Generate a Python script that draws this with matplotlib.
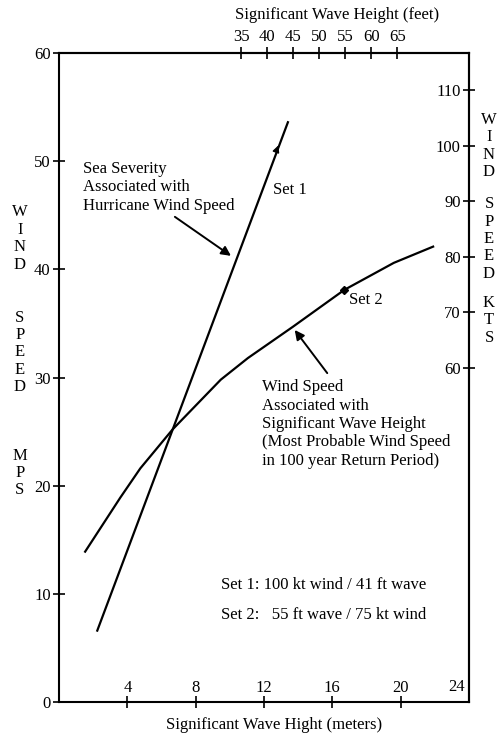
import matplotlib
matplotlib.use("Agg")
import matplotlib.pyplot as plt

plt.rcParams['font.family'] = ['Liberation Serif', 'DejaVu Serif']
plt.rcParams['font.size'] = 12

# data (x = wave height in m, y = wind speed in m/s)
set1_x = [2.24, 13.4]
set1_y = [6.6, 53.6]
set2_x = [1.53, 3.59, 4.76, 6.65, 9.47, 11.06, 13.7, 16.7, 19.6, 21.9]
set2_y = [13.9, 18.9, 21.6, 25.2, 29.8, 31.8, 34.7, 38.1, 40.6, 42.1]
set1_pt = (12.9, 51.7)
set2_pt = (16.7, 38.1)

mps_ticks = [0, 10, 20, 30, 40, 50, 60]
m_ticks = [4, 8, 12, 16, 20]
ft_ticks = [35, 40, 45, 50, 55, 60, 65]
kt_ticks = [60, 70, 80, 90, 100, 110]

FT = 0.3048
KT = 0.514444

fig = plt.figure(figsize=(4.98, 7.36), dpi=100)
ax = fig.add_axes([59/498, 1-702/736, 410/498, 649/736])
ax.set_xlim(0, 24)
ax.set_ylim(0, 60)
for s in ax.spines.values():
    s.set_linewidth(1.5)

ax.plot(set1_x, set1_y, color='black', lw=1.6)
ax.plot(set2_x, set2_y, color='black', lw=1.6)
ax.annotate('', xy=set1_pt, xytext=(set1_pt[0]-0.25, set1_pt[1]-1.06),
            arrowprops=dict(arrowstyle='-|>', color='black', lw=1, mutation_scale=10))
ax.plot([set2_pt[0]], [set2_pt[1]], marker='D', ms=4, color='black')

# pointer arrows
ax.annotate('', xy=(10.2, 41.1), xytext=(6.65, 45.0),
            arrowprops=dict(arrowstyle='-|>', color='black', lw=1.4, mutation_scale=14))
ax.annotate('', xy=(13.7, 34.6), xytext=(15.8, 30.2),
            arrowprops=dict(arrowstyle='-|>', color='black', lw=1.4, mutation_scale=14))

ax.text(1.41, 47.6, "Sea Severity\nAssociated with\nHurricane Wind Speed", ha='left', va='center')
ax.text(12.53, 47.3, "Set 1", ha='left', va='center')
ax.text(17.0, 37.15, "Set 2", ha='left', va='center')
ax.text(11.88, 25.7, "Wind Speed\nAssociated with\nSignificant Wave Height\n(Most Probable Wind Speed\nin 100 year Return Period)",
        ha='left', va='center')
ax.text(9.47, 10.8, "Set 1: 100 kt wind / 41 ft wave", ha='left', va='center')
ax.text(9.47, 8.0, "Set 2:   55 ft wave / 75 kt wind", ha='left', va='center')

# left axis (m/s)
ax.set_yticks(mps_ticks)
ax.tick_params(axis='y', direction='inout', length=8, width=1.2, pad=2)

# bottom axis (meters), labels sit inside above the ticks
ax.set_xticks(m_ticks)
ax.tick_params(axis='x', direction='inout', length=8, width=1.2, pad=-20)
ax.text(23.3, 1.4, "24", ha='center', va='center')

# top axis (feet)
top = ax.secondary_xaxis('top', functions=(lambda m: m / FT, lambda f: f * FT))
top.set_xticks(ft_ticks)
top.tick_params(direction='inout', length=8, width=1.2, pad=2)
top.spines['top'].set_linewidth(1.5)

# right axis (knots), labels inside
right = ax.secondary_yaxis('right', functions=(lambda v: v / KT, lambda k: k * KT))
right.set_yticks(kt_ticks, labels=[str(k) for k in kt_ticks], ha='right')
right.tick_params(direction='inout', length=8, width=1.2, pad=-10)
right.spines['right'].set_linewidth(1.5)

ax.text(0.678, 1.0586, "Significant Wave Height (feet)", transform=ax.transAxes, ha='center', va='center')
ax.text(0.524, -0.0354, "Significant Wave Hight (meters)", transform=ax.transAxes, ha='center', va='center')

def stack(word, x, yc):
    ax.text(x, yc, "\n".join(word), transform=ax.transAxes, ha='center', va='center',
            linespacing=1.12)

for w, py in [("WIND", 238.5), ("SPEED", 352.5), ("MPS", 473)]:
    stack(w, (20-59)/410, (702-py)/649)
for w, py in [("WIND", 146), ("SPEED", 239), ("KTS", 320.5)]:
    stack(w, (489-59)/410, (702-py)/649)

fig.savefig("out.png", dpi=100)
